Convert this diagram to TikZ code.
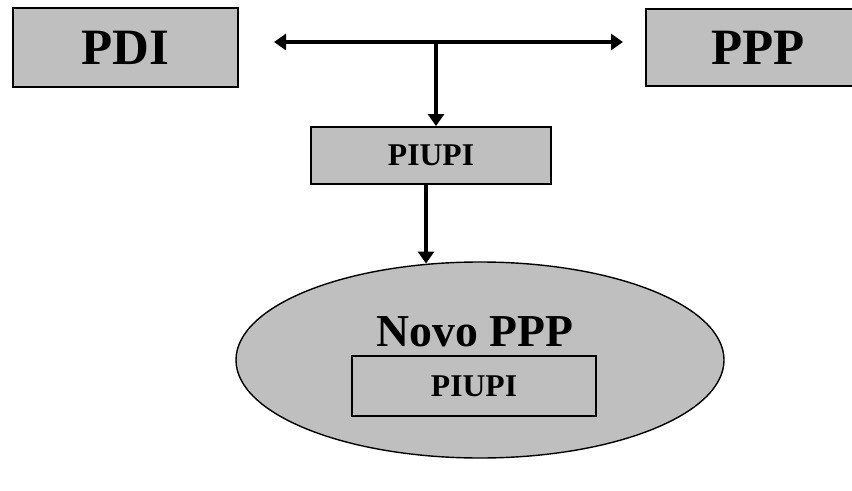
\documentclass[tikz,border=0pt]{standalone}
\usepackage{fontspec}
\setmainfont{Liberation Serif}
\usetikzlibrary{arrows.meta,shapes.geometric}

\begin{document}
\begin{tikzpicture}[line width=1.1pt,>={Triangle[length=2.4mm,width=3.2mm]},
  caixa/.style={draw,fill=black!25,inner sep=0pt,font=\bfseries},
  seta/.style={->,line width=2.2pt}]
  \useasboundingbox (0,0) rectangle (17.04,-9.82);
  \clip (0,0) rectangle (17.04,-9.82);
  % planos do topo
  \node[caixa,minimum width=4.5cm,minimum height=1.58cm,font=\bfseries\fontsize{29}{29}\selectfont] (pdi) at (2.51,-0.95) {PDI};
  \node[caixa,minimum width=4.48cm,minimum height=1.54cm,font=\bfseries\fontsize{29}{29}\selectfont] (ppp) at (15.16,-0.95) {PPP};
  \node[caixa,minimum width=4.8cm,minimum height=1.14cm,font=\bfseries\fontsize{18}{18}\selectfont] (piupi) at (8.62,-3.11) {PIUPI};
  % novo plano
  \node[ellipse,draw,line width=0.8pt,fill=black!25,minimum width=9.76cm,minimum height=3.92cm,inner sep=0pt] (novo) at (9.6,-7.2) {};
  \node[font=\bfseries\fontsize{26}{26}\selectfont] (titulo) at (9.5,-6.64) {Novo PPP};
  \node[caixa,minimum width=4.88cm,minimum height=1.2cm,font=\bfseries\fontsize{18}{18}\selectfont] (piupi2) at (9.48,-7.72) {PIUPI};
  % setas
  \coordinate (esq) at (5.48,-0.84); \coordinate (dir) at (12.46,-0.84);
  \coordinate (j) at (8.72,-0.84);
  \draw[seta,<->] (esq) -- (dir);
  \draw[seta] (j) -- (j |- piupi.north);
  \coordinate (s) at (8.52,-3.68);
  \draw[seta] (s |- piupi.south) -- (8.52,-5.27) coordinate (t);
\end{tikzpicture}
\end{document}
